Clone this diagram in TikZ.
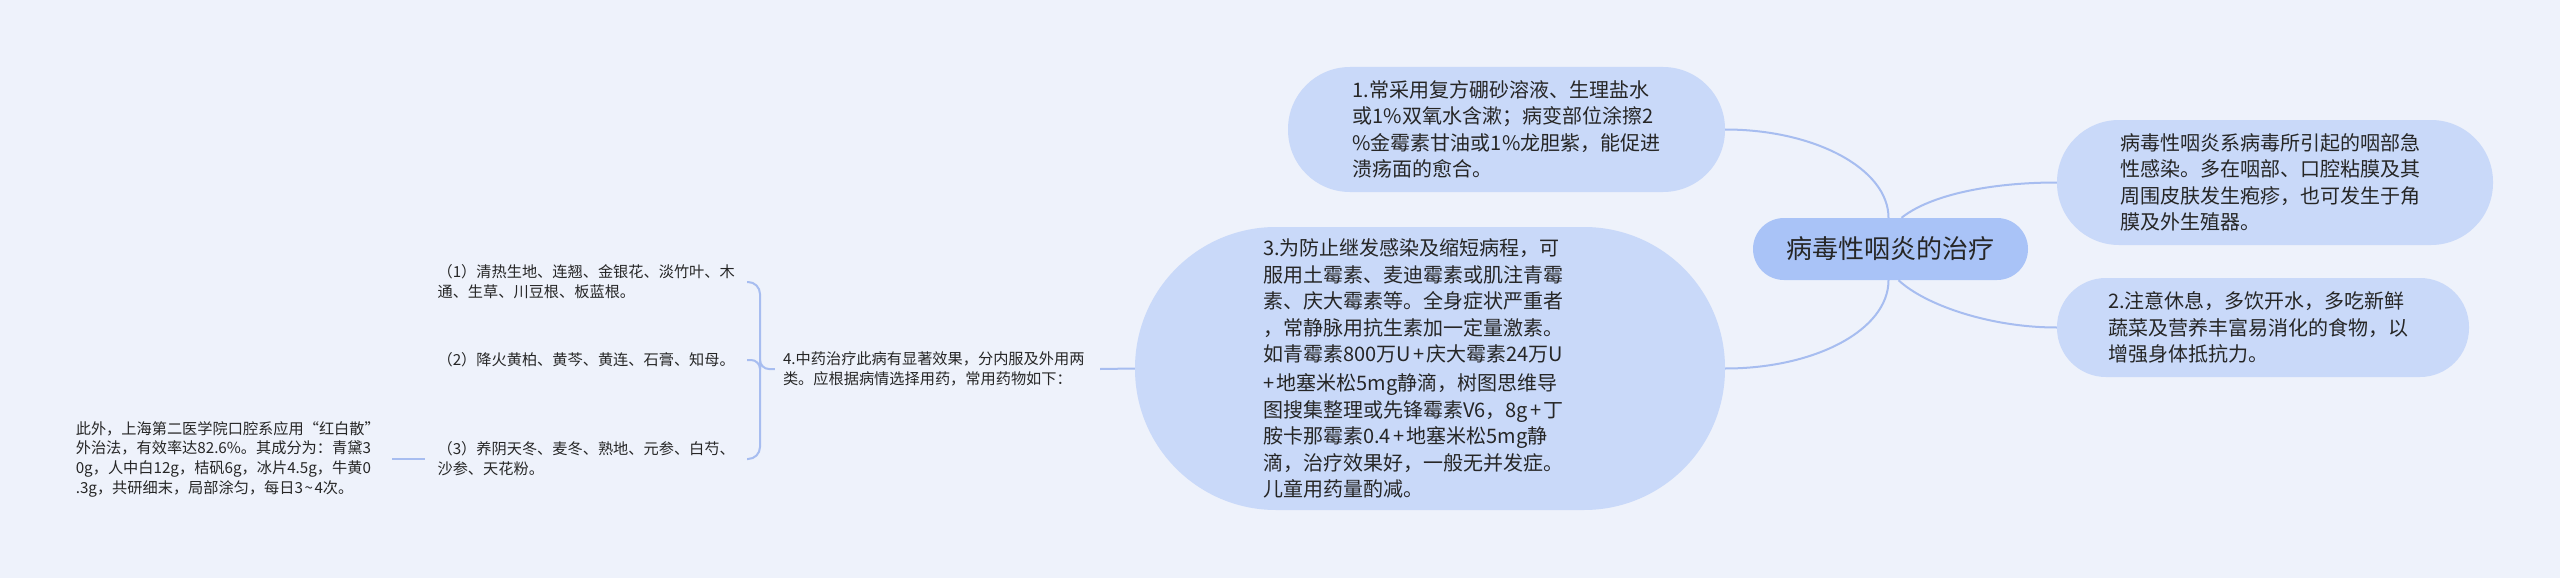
\documentclass[tikz,border=0pt]{standalone}
\usepackage{fontspec}
\setmainfont{Noto Sans CJK SC}
\definecolor{bg}{HTML}{EEF2FB}
\definecolor{nodefill}{HTML}{C9D9F9}
\definecolor{rootfill}{HTML}{A9C3F7}
\definecolor{conncol}{HTML}{A7BDF0}
\definecolor{txt}{HTML}{262626}
\newcommand{\pls}{\kern0.12em+\kern0.12em}
\tikzset{
  pill/.style={fill=nodefill, draw=none, inner sep=0pt, align=left, text=txt,
    font={\fontsize{20pt}{26.5pt}\selectfont}},
  rootbox/.style={fill=rootfill, draw=none, inner sep=0pt, text=txt,
    minimum width=275pt, minimum height=62pt, rounded corners=31pt,
    font={\fontsize{26pt}{30pt}\selectfont}},
  small/.style={draw=none, inner xsep=12pt, inner ysep=4pt, align=left, text=txt,
    font={\fontsize{15.2pt}{19.7pt}\selectfont}},
  conn/.style={draw=conncol, line width=2pt},
}
\begin{document}
\begin{tikzpicture}[x=1pt,y=-1pt]
\fill[bg] (0,0) rectangle (2560,578);
\useasboundingbox (0,0) rectangle (2560,578);

\node[rootbox] (root) at (1890.5,249) {病毒性咽炎的治疗};

\node[pill, text width=308pt, minimum width=437pt, minimum height=125pt, rounded corners=62pt] (n1) at (1506.5,129.5)
{1.常采用复方硼砂溶液、生理盐水\\或1\%双氧水含漱；病变部位涂擦2\\\%金霉素甘油或1\%龙胆紫，能促进\\溃疡面的愈合。};

\node[pill, text width=310pt, minimum width=436pt, minimum height=125pt, rounded corners=62pt] (n2) at (2275,182.5)
{病毒性咽炎系病毒所引起的咽部急\\性感染。多在咽部、口腔粘膜及其\\周围皮肤发生疱疹，也可发生于角\\膜及外生殖器。};

\node[pill, text width=310pt, minimum width=412pt, minimum height=99pt, rounded corners=49pt] (n3) at (2263,327.5)
{2.注意休息，多饮开水，多吃新鲜\\蔬菜及营养丰富易消化的食物，以\\增强身体抵抗力。};

\node[pill, text width=334pt, minimum width=590pt, minimum height=283pt, rounded corners=141pt] (big) at (1430,368.5)
{3.为防止继发感染及缩短病程，可\\服用土霉素、麦迪霉素或肌注青霉\\素、庆大霉素等。全身症状严重者\\，常静脉用抗生素加一定量激素。\\如青霉素800万U\pls 庆大霉素24万U\\\pls 地塞米松5mg静滴，树图思维导\\图搜集整理或先锋霉素V6，8g\pls 丁\\胺卡那霉素0.4\pls 地塞米松5mg静\\滴，治疗效果好，一般无并发症。\\儿童用药量酌减。};

\node[small, inner xsep=0pt, text width=309pt, minimum width=325pt] (tcm) at (937.5,369)
{4.中药治疗此病有显著效果，分内服及外用两\\类。应根据病情选择用药，常用药物如下：};

\node[small, anchor=east] (c1) at (747,282)
{（1）清热生地、连翘、金银花、淡竹叶、木\\通、生草、川豆根、板蓝根。};
\node[small, anchor=east] (c2) at (747,360)
{（2）降火黄柏、黄芩、黄连、石膏、知母。};
\node[small, anchor=east] (c3) at (747,459)
{（3）养阴天冬、麦冬、熟地、元参、白芍、\\沙参、天花粉。};

\node[small, anchor=east] (ext) at (392,459)
{此外，上海第二医学院口腔系应用“红白散”\\外治法，有效率达82.6\%。其成分为：青黛3\\0g，人中白12g，桔矾6g，冰片4.5g，牛黄0\\.3g，共研细末，局部涂匀，每日3\kern0.1em\char"007E\kern0.1em 4次。};

% root connectors
\draw[conn] ([xshift=-2pt]root.north) .. controls (1888.5,169) and (1815,129.5) .. (n1.east);
\draw[conn] ([xshift=11pt]root.north) .. controls (1930,195) and (1990,182.5) .. (n2.west);
\draw[conn] ([xshift=8pt]root.south) .. controls (1925,305) and (1990,327.5) .. (n3.west);
\draw[conn] ([xshift=-2pt]root.south) .. controls (1888.5,330) and (1815,368.5) .. (big.east);

% big to tcm
\draw[conn] (big.west) -- (tcm.east);

% bracket
\coordinate (bx) at (760,369);
\draw[conn, rounded corners=12pt] (c1.east) -| (bx) |- (c3.east);
\draw[conn, rounded corners=9pt] (c2.east) -| (bx) -- (tcm.west);

% extra
\draw[conn] (ext.east) -- (c3.west);
\end{tikzpicture}
\end{document}
